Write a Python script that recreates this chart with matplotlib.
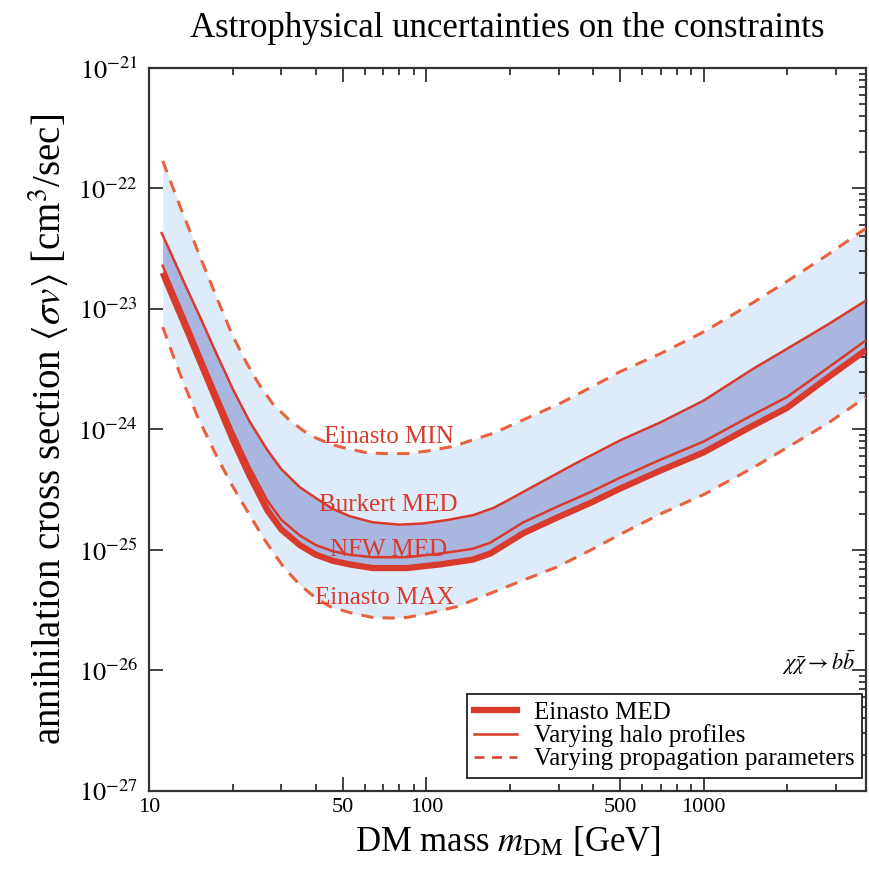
import matplotlib
matplotlib.use("Agg")
import matplotlib.pyplot as plt
import numpy as np
from matplotlib.ticker import FixedLocator, NullFormatter, LogLocator
from matplotlib.lines import Line2D

plt.rcParams.update({
    "font.family": "serif",
    "font.serif": ["Liberation Serif", "DejaVu Serif"],
    "mathtext.fontset": "stix",
})

# values, cross sections given as log10(<sigma v>)
# --- Einasto MIN (upper dashed) ---
mass_min = [11.2, 13, 15, 17.5, 20, 22.5, 25, 28, 32, 36, 40, 45, 50, 60, 70, 85, 100, 125, 150, 175,
            200, 250, 300, 400, 500, 700, 1000, 1500, 2000, 2800, 3850]
log_sv_min = [-21.77, -22.16, -22.52, -22.90, -23.22, -23.45, -23.63, -23.79, -23.92, -24.01, -24.07,
              -24.12, -24.15, -24.19, -24.20, -24.20, -24.18, -24.14, -24.08, -24.03, -23.97, -23.87,
              -23.79, -23.64, -23.52, -23.37, -23.19, -22.95, -22.77, -22.55, -22.33]

# --- Einasto MAX (lower dashed) ---
mass_max = [11.2, 12.5, 13.3, 15, 17.6, 20, 23.2, 26, 30.5, 35, 40, 45, 53, 64, 75, 85, 100, 129, 170,
            224, 297, 400, 500, 700, 1000, 1500, 2000, 2800, 3850]
log_sv_max = [-23.15, -23.45, -23.61, -23.90, -24.23, -24.47, -24.72, -24.91, -25.14, -25.29, -25.40,
              -25.47, -25.52, -25.56, -25.565, -25.56, -25.53, -25.47, -25.36, -25.25, -25.14, -24.99,
              -24.87, -24.70, -24.54, -24.32, -24.15, -23.95, -23.73]

# --- Burkert MED (thin, top of halo band) ---
mass_bur = [11.1, 11.9, 13.5, 15.3, 17.5, 20.1, 23, 26.7, 30, 35, 40, 46, 53, 64, 80, 97.5, 120, 148,
            175, 196, 258, 340, 500, 700, 1000, 1500, 2000, 2800, 3850]
log_sv_bur = [-22.37, -22.52, -22.80, -23.07, -23.37, -23.67, -23.93, -24.17, -24.33, -24.48, -24.57,
              -24.66, -24.72, -24.77, -24.79, -24.78, -24.75, -24.71, -24.65, -24.59, -24.44, -24.29,
              -24.09, -23.94, -23.76, -23.50, -23.33, -23.13, -22.93]

# --- Einasto MED (thick) and NFW MED (thin, just above) share mass points ---
mass_med = [11.2, 12.5, 13.5, 15.3, 17.5, 20.1, 23, 26.7, 30, 35, 40, 46, 53, 64, 85, 112, 147, 170,
            200, 224, 297, 390, 500, 700, 1000, 1500, 2000, 2800, 3850]
log_sv_ein = [-22.70, -22.96, -23.14, -23.44, -23.76, -24.09, -24.38, -24.67, -24.83, -24.96, -25.04,
              -25.09, -25.12, -25.15, -25.15, -25.12, -25.08, -25.03, -24.93, -24.86, -24.73, -24.61,
              -24.49, -24.34, -24.19, -23.97, -23.82, -23.57, -23.34]
log_sv_nfw = [-22.64, -22.90, -23.08, -23.38, -23.70, -24.02, -24.31, -24.59, -24.75, -24.88, -24.96,
              -25.01, -25.04, -25.06, -25.06, -25.03, -24.99, -24.94, -24.84, -24.77, -24.64, -24.52,
              -24.40, -24.25, -24.10, -23.88, -23.73, -23.49, -23.26]

curve_labels = ["Einasto MIN", "Burkert MED", "NFW MED", "Einasto MAX"]
label_mass = [73, 73, 73, 71]
label_sv = [8.6e-25, 2.35e-25, 1.0e-25, 4.0e-26]

x_ticks = [10, 50, 100, 500, 1000]
y_ticks = [1e-27, 1e-26, 1e-25, 1e-24, 1e-23, 1e-22, 1e-21]

red = "#d93a2b"
dash_red = "#e8623f"
light_blue = "#ddecf8"
dark_blue = "#a9b6e0"

sv_min = 10.0 ** np.array(log_sv_min)
sv_max = 10.0 ** np.array(log_sv_max)
sv_bur = 10.0 ** np.array(log_sv_bur)
sv_ein = 10.0 ** np.array(log_sv_ein)
sv_nfw = 10.0 ** np.array(log_sv_nfw)

fig = plt.figure(figsize=(8.7, 8.74), dpi=100)
ax = fig.add_axes([0.1713, 0.095, 0.8241, 0.8272])
ax.set_xscale("log")
ax.set_yscale("log")

# shaded bands (curves resampled on a common mass grid only for filling)
grid = np.logspace(np.log10(11.2), np.log10(3850), 400)
def on_grid(m, s):
    return np.exp(np.interp(np.log(grid), np.log(m), np.log(s)))

ax.fill_between(grid, on_grid(mass_max, sv_max), on_grid(mass_min, sv_min),
                color=light_blue, lw=0, zorder=1)
ax.fill_between(grid, on_grid(mass_med, sv_ein), on_grid(mass_bur, sv_bur),
                color=dark_blue, lw=0, zorder=2)

ax.plot(mass_min, sv_min, color=dash_red, lw=2.2, ls=(0, (4, 3)), zorder=3)
ax.plot(mass_max, sv_max, color=dash_red, lw=2.2, ls=(0, (4, 3)), zorder=3)
ax.plot(mass_bur, sv_bur, color=red, lw=1.8, zorder=4)
ax.plot(mass_med, sv_nfw, color=red, lw=1.8, zorder=4)
ax.plot(mass_med, sv_ein, color=red, lw=4.5, zorder=5, solid_capstyle="butt")

for lab, xm, ys in zip(curve_labels, label_mass, label_sv):
    ax.text(xm, ys, lab, color=red, fontsize=18, ha="center", va="center", zorder=6)

ax.set_xlim(10, 3850)
ax.set_ylim(1e-27, 1e-21)

ax.xaxis.set_major_locator(FixedLocator(x_ticks))
ax.set_xticklabels([str(t) for t in x_ticks])
ax.xaxis.set_minor_locator(LogLocator(base=10, subs=np.arange(2, 10), numticks=20))
ax.xaxis.set_minor_formatter(NullFormatter())
ax.yaxis.set_major_locator(FixedLocator(y_ticks))
ax.set_yticklabels([r"$10^{%d}$" % int(np.log10(t)) for t in y_ticks])
ax.yaxis.set_minor_locator(LogLocator(base=10, subs=np.arange(2, 10), numticks=20))
ax.yaxis.set_minor_formatter(NullFormatter())

ax.tick_params(which="both", direction="in", top=True, right=True, width=1.3, color="#333333")
ax.tick_params(axis="x", labelsize=16, pad=5)
ax.tick_params(axis="y", labelsize=19, pad=8)
ax.tick_params(which="major", length=10)
ax.tick_params(which="minor", length=5)
ax.tick_params(axis="y", which="minor", left=False, right=True)
for sp in ax.spines.values():
    sp.set_linewidth(1.6)
    sp.set_color("#333333")

ax.set_xlabel(r"DM mass $m_{\rm DM}$ [GeV]", fontsize=25, labelpad=6)
ax.set_ylabel(r"annihilation cross section $\langle\sigma v\rangle$ [cm$^3$/sec]", fontsize=28, labelpad=6)
ax.set_title("Astrophysical uncertainties on the constraints", fontsize=25, pad=22)

ax.text(0.985, 0.178, r"$\chi\bar{\chi}\rightarrow b\bar{b}$", transform=ax.transAxes,
        fontsize=16, ha="right", va="center")

handles = [
    Line2D([], [], color=red, lw=4.5),
    Line2D([], [], color=red, lw=1.8),
    Line2D([], [], color=red, lw=1.8, ls=(0, (4, 3))),
]
leg = ax.legend(handles, ["Einasto MED", "Varying halo profiles", "Varying propagation parameters"],
                loc="lower right", bbox_to_anchor=(0.995, 0.018), borderaxespad=0,
                fontsize=18, fancybox=False, framealpha=1, edgecolor="#222222",
                handlelength=1.7, handletextpad=0.7, labelspacing=0.02, borderpad=0.3)
leg.get_frame().set_linewidth(1.3)

fig.savefig("out.png", dpi=100)
